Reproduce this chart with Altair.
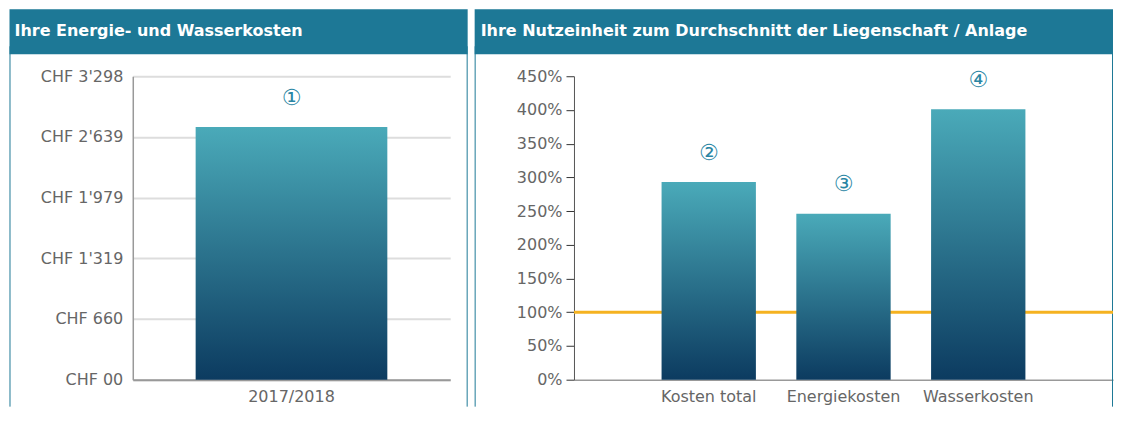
import altair as alt
import pandas as pd

# ---- data ----
left_categories = ["2017/2018"]
left_values = [2745]
left_markers = ["①"]
left_tick_values = [0, 660, 1319, 1979, 2639, 3298]
left_tick_labels = ["CHF 00", "CHF 660", "CHF 1'319", "CHF 1'979", "CHF 2'639", "CHF 3'298"]

right_categories = ["Kosten total", "Energiekosten", "Wasserkosten"]
right_values = [293, 246, 401]
right_markers = ["②", "③", "④"]
right_tick_values = [0, 50, 100, 150, 200, 250, 300, 350, 400, 450]
reference_value = [100]

left_title = "Ihre Energie- und Wasserkosten"
right_title = "Ihre Nutzeinheit zum Durchschnitt der Liegenschaft / Anlage"

# ---- styles ----
FONT = "DejaVu Sans"
TEAL = "#1D7896"
MARK_COLOR = "#2A86A4"
LABEL_COLOR = "#666666"
grad = alt.Gradient(
    gradient="linear",
    stops=[alt.GradientStop(color="#4AAAB9", offset=0),
           alt.GradientStop(color="#0C3B60", offset=1)],
    x1=0, x2=0, y1=0, y2=1,
)

H = 304
LW, RW = 318, 540

left_df = pd.DataFrame({"cat": left_categories, "value": left_values, "marker": left_markers})
right_df = pd.DataFrame({"cat": right_categories, "value": right_values, "marker": right_markers})
ref_df = pd.DataFrame({"value": reference_value})
one = pd.DataFrame({"a": [0]})

label_expr = ""
for v, l in zip(left_tick_values, left_tick_labels):
    label_expr += f"datum.value == {v} ? \"{l}\" : "
label_expr += "''"


def panel(x1, x2, title_x, title):
    layers = []
    for xv in (x1 + 0.5, x2 - 0.5):
        layers.append(alt.Chart(one).mark_rule(color=TEAL, strokeWidth=1).encode(
            x=alt.value(xv), y=alt.value(-30), y2=alt.value(331)))
    header = alt.Chart(one).mark_rect(color=TEAL).encode(
        x=alt.value(x1), x2=alt.value(x2), y=alt.value(-67), y2=alt.value(-22))
    text = alt.Chart(one).mark_text(align="left", baseline="middle", font=FONT,
                                    fontWeight="bold", fontSize=16, color="white").encode(
        x=alt.value(title_x), y=alt.value(-45), text=alt.value(title))
    return layers + [header, text]


# ---- left chart ----
lx = alt.X("cat:N", sort=left_categories, title=None,
           scale=alt.Scale(paddingInner=0, paddingOuter=0.328),
           axis=alt.Axis(labelAngle=0, ticks=False, domainColor="#999999", domainWidth=2,
                         labelFont=FONT, labelFontSize=16, labelColor=LABEL_COLOR, labelPadding=9))
ly_axis = alt.Axis(values=left_tick_values, labelExpr=label_expr, grid=True, gridColor="#DDDDDD",
                   gridWidth=2, ticks=False, domainColor="#999999", domainWidth=1.5,
                   labelFont=FONT, labelFontSize=16, labelColor=LABEL_COLOR, labelPadding=10)
ly = alt.Y("value:Q", title=None, scale=alt.Scale(domain=[0, 3298], nice=False), axis=ly_axis)

left_bars = alt.Chart(left_df).mark_bar(color=grad).encode(x=lx, y=ly)
left_text = alt.Chart(left_df).mark_text(font=FONT, fontSize=22, color=MARK_COLOR,
                                         baseline="middle", dy=-29.5).encode(
    x=lx, y=ly, text="marker:N")

left = alt.layer(*panel(-123.5, 335.5, -118.5, left_title), left_bars, left_text).properties(
    width=LW, height=H)

# ---- right chart ----
rx = alt.X("cat:N", sort=right_categories, title=None,
           scale=alt.Scale(paddingInner=0.3, paddingOuter=0.65),
           axis=alt.Axis(labelAngle=0, ticks=False, domainColor="#999999", domainWidth=1.5,
                         labelFont=FONT, labelFontSize=16, labelColor=LABEL_COLOR, labelPadding=9))
ry_axis = alt.Axis(values=right_tick_values, labelExpr="datum.value + '%'", grid=False,
                   tickSize=8, tickColor="#333333", domainColor="#555555", domainWidth=1,
                   labelFont=FONT, labelFontSize=16, labelColor=LABEL_COLOR, labelPadding=4)
ry = alt.Y("value:Q", title=None, scale=alt.Scale(domain=[0, 450], nice=False), axis=ry_axis)

ref_rule = alt.Chart(ref_df).mark_rule(color="#F5B220", strokeWidth=3).encode(y=ry)
right_bars = alt.Chart(right_df).mark_bar(color=grad).encode(x=rx, y=ry)
right_text = alt.Chart(right_df).mark_text(font=FONT, fontSize=22, color=MARK_COLOR,
                                           baseline="middle", dy=-29.5).encode(
    x=rx, y=ry, text="marker:N")

right = alt.layer(*panel(-99.5, 540, -93.5, right_title), ref_rule, right_bars, right_text).properties(
    width=RW, height=H)

chart = alt.hconcat(left, right, spacing=6, bounds="full").properties(
    padding={"left": 1, "top": 1, "right": 0, "bottom": 0}
).configure_view(strokeWidth=0)

chart.save("out.html", embed_options={"renderer": "svg", "actions": False})
